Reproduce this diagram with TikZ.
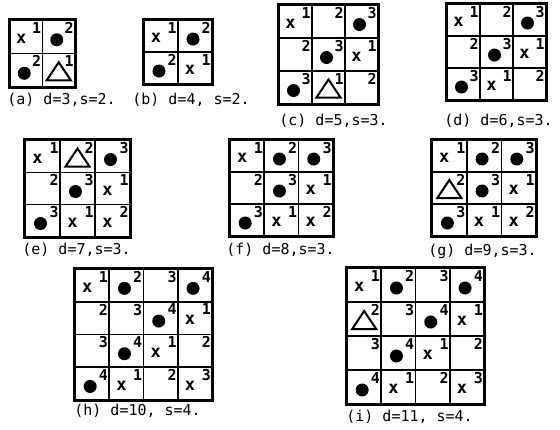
\documentclass[tikz,border=0pt]{standalone}
\usepackage{fontspec}
\setmainfont{DejaVu Sans Mono}
\usetikzlibrary{positioning,calc}
\tikzset{
  cel/.style={rectangle, draw, line width=1.7pt, inner sep=0pt},
  cadre/.style={draw, line width=2.7pt},
  expo/.style={anchor=north east, inner sep=0pt, font=\fontsize{15}{15}\selectfont\bfseries},
  croix/.style={inner sep=0pt, font=\fontsize{17}{17}\selectfont\bfseries},
  pion/.style={fill=black},
  tri/.style={draw, line width=2pt, line join=miter},
  lab/.style={inner sep=0pt, font=\fontsize{15}{15}\selectfont},
}
% case : x, p (pion), t (triangle) ou n (rien) puis le chiffre
\def\contenu#1#2\relax#3{%
  \if#1x\node[croix] at ($(#3)+(-5,2)$) {x};\fi
  \if#1p\fill[pion] ($(#3)+(-2,3)$) circle (6.5pt);\fi
  \if#1t\draw[tri] ($(#3)+(-12,10)$) -- ($(#3)+(0,-8)$) -- ($(#3)+(12,10)$) -- cycle;\fi
  \node[expo] at ($(#3.north east)+(-2,3)$) {#2};
}
\newcommand{\grille}[6]{%
  \foreach \e [count=\k from 0] in {#6} {%
    \pgfmathtruncatemacro{\lig}{floor(\k/#2)}%
    \pgfmathtruncatemacro{\colo}{mod(\k,#2)}%
    \node[cel, minimum width=#4pt, minimum height=#5pt] (#1-\lig-\colo)
      at ($(#3)+(\colo*#4+#4/2,\lig*#5+#5/2)$) {};
    \expandafter\contenu\e\relax{#1-\lig-\colo}%
  }%
  \pgfmathtruncatemacro{\der}{#2-1}%
  \draw[cadre] (#1-0-0.north west) rectangle (#1-\der-\der.south east);
}

\begin{document}
\begin{tikzpicture}[x=1pt, y=-1pt]
    \useasboundingbox (0,0) rectangle (560,429);
    \grille{a}{2}{10,20}{32.5}{33.5}{x1,p2,p2,t1}
    \grille{b}{2}{144,20}{34}{32}{x1,p2,p2,x1}
    \grille{c}{3}{279,5}{33}{33}{x1,n2,p3,n2,p3,x1,p3,t1,n2}
    \grille{d}{3}{447,4}{33}{32}{x1,n2,p3,n2,p3,x1,p3,x1,n2}
    \grille{e}{3}{25,140.5}{35}{32}{x1,t2,p3,n2,p3,x1,p3,x1,x2}
    \grille{f}{3}{230,140}{34.3}{32}{x1,p2,p3,n2,p3,x1,p3,x1,x2}
    \grille{g}{3}{432,140}{34.7}{32}{x1,p2,p3,t2,p3,x1,p3,x1,x2}
    \grille{h}{4}{75,269}{34.3}{32.7}{x1,p2,n3,p4,n2,n3,p4,x1,n3,p4,x1,n2,p4,x1,n2,x3}
    \grille{i}{4}{347,268}{34.3}{34}{x1,p2,n3,p4,t2,n3,p4,x1,n3,p4,x1,n2,p4,x1,n2,x3}
    \node[lab, below right=5pt and -2pt of a-1-0.south west] (la) {(a) d=3,s=2.};
    \node[lab, below right=8pt and -11pt of b-1-0.south west] (lb) {(b) d=4, s=2.};
    \node[lab, below right=9pt and 1pt of c-2-0.south west] (lc) {(c) d=5,s=3.};
    \node[lab, below right=13pt and -2pt of d-2-0.south west] (ld) {(d) d=6,s=3.};
    \node[lab, below right=6pt and -2pt of e-2-0.south west] (le) {(e) d=7,s=3.};
    \node[lab, below right=6pt and -3pt of f-2-0.south west] (lf) {(f) d=8,s=3.};
    \node[lab, below right=7pt and -3pt of g-2-0.south west] (lg) {(g) d=9,s=3.};
    \node[lab, below right=3pt and 0pt of h-3-0.south west] (lh) {(h) d=10, s=4.};
    \node[lab, below right=5pt and 0pt of i-3-0.south west] (li) {(i) d=11, s=4.};
  \end{tikzpicture}
\end{document}
